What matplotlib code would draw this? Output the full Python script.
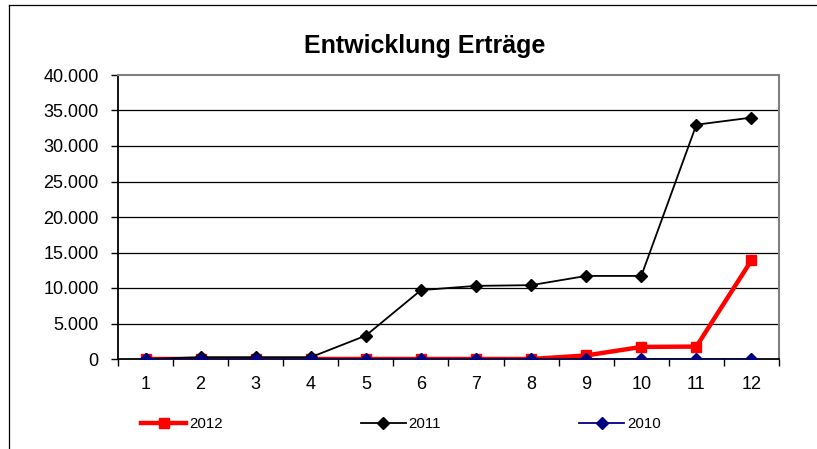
import matplotlib
matplotlib.use('Agg')
import matplotlib.pyplot as plt
from matplotlib.lines import Line2D
from matplotlib.ticker import FuncFormatter

plt.rcParams['font.family'] = ['Liberation Sans', 'DejaVu Sans']

# Monate und Erträge
months = [1, 2, 3, 4, 5, 6, 7, 8, 9, 10, 11, 12]
ertrag_2012 = [0, 0, 0, 0, 0, 0, 0, 0, 500, 1700, 1750, 13900]
ertrag_2011 = [0, 250, 250, 250, 3300, 9700, 10300, 10400, 11700, 11700, 33000, 34000]
ertrag_2010 = [0, 0, 0, 0, 0, 0, 0, 0, 0, 0, 0, 0]
y_ticks = [0, 5000, 10000, 15000, 20000, 25000, 30000, 35000, 40000]

W, H = 817, 449
fig = plt.figure(figsize=(W / 100, H / 100), dpi=100)

# plot area in pixels
left, top, right, bottom = 118, 75, 779, 359
ax = fig.add_axes([left / W, 1 - bottom / H, (right - left) / W, (bottom - top) / H])

ax.plot(months, ertrag_2012, color='#ff0000', lw=3.2, marker='s', ms=7.5, label='2012', zorder=3)
ax.plot(months, ertrag_2011, color='black', lw=1.3, marker='D', ms=6.5, label='2011', zorder=4)
ax.plot(months, ertrag_2010, color='#000080', lw=1.3, marker='D', ms=6.5, label='2010', zorder=5)

ax.set_xlim(0.5, 12.5)
ax.set_ylim(0, 40000)
ax.set_yticks(y_ticks)
ax.yaxis.set_major_formatter(FuncFormatter(lambda v, p: f'{int(v):,}'.replace(',', '.')))
for y in y_ticks[1:-1]:
    ax.axhline(y, color='black', lw=0.9, zorder=1)

# ticks between categories, labels at the centers
ax.set_xticks([m + 0.5 for m in [0] + months])
ax.set_xticklabels([])
ax.set_xticks(months, minor=True)
ax.set_xticklabels([str(m) for m in months], minor=True)
ax.tick_params(axis='x', which='minor', length=0, pad=12, labelsize=13)
ax.tick_params(axis='x', which='major', direction='out', length=5, width=1)
ax.tick_params(axis='y', direction='out', length=5, width=1, labelsize=13, pad=9)

ax.spines['top'].set_color('#808080')
ax.spines['right'].set_color('#808080')
ax.spines['top'].set_linewidth(1.5)
ax.spines['right'].set_linewidth(1.5)
ax.spines['left'].set_linewidth(1.3)
ax.spines['bottom'].set_linewidth(1.3)

fig.text(425 / W, 1 - 46 / H, 'Entwicklung Erträge', ha='center', va='center',
         fontsize=18, fontweight='bold')

fig.legend(loc='center left', bbox_to_anchor=(141 / W, 1 - 424 / H), ncol=3,
           frameon=False, fontsize=10.8, handlelength=3.0, handletextpad=0.2,
           columnspacing=9.2, borderaxespad=0, borderpad=0)

# outer chart frame (only left and top visible)
fig.add_artist(Line2D([9 / W, 9 / W], [0, 1 - 5 / H], color='black', lw=0.9))
fig.add_artist(Line2D([9 / W, 1], [1 - 5 / H, 1 - 5 / H], color='black', lw=0.9))

fig.savefig('out.png', dpi=100)
